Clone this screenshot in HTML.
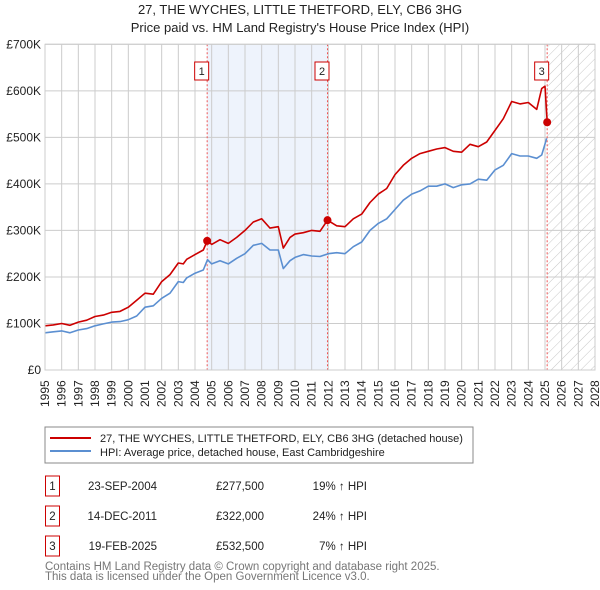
<!DOCTYPE html>
<html><head><meta charset="utf-8"><style>
body{margin:0;background:#fff;font-family:"Liberation Sans","DejaVu Sans",sans-serif;}
#wrap{position:relative;width:600px;height:590px;overflow:hidden;}
</style></head><body>
<div id="wrap">
<svg id="svg" width="600" height="590" xmlns="http://www.w3.org/2000/svg">
<defs><pattern id="hatch" width="7" height="7" patternUnits="userSpaceOnUse" patternTransform="rotate(45)"><line x1="0" y1="0" x2="0" y2="7" stroke="#c8c8c8" stroke-width="1"/></pattern></defs>
<text x="300" y="14" text-anchor="middle" font-size="13" fill="#222">27, THE WYCHES, LITTLE THETFORD, ELY, CB6 3HG</text>
<text x="300" y="32" text-anchor="middle" font-size="13" fill="#222">Price paid vs. HM Land Registry's House Price Index (HPI)</text>
<g id="plot"></g>
<rect x="45" y="427" width="428" height="36" fill="#fff" stroke="#888"/>
<line x1="50" y1="438" x2="91" y2="438" stroke="#cc0000" stroke-width="2"/>
<text x="100" y="442" font-size="11" fill="#222">27, THE WYCHES, LITTLE THETFORD, ELY, CB6 3HG (detached house)</text>
<line x1="50" y1="451" x2="91" y2="451" stroke="#5b8fd1" stroke-width="2"/>
<text x="100" y="456" font-size="11" fill="#222">HPI: Average price, detached house, East Cambridgeshire</text>
<g id="table" font-size="11.5" fill="#222"></g>
<text x="45" y="570" font-size="11.5" fill="#777">Contains HM Land Registry data © Crown copyright and database right 2025.</text>
<text x="45" y="580" font-size="11.5" fill="#777">This data is licensed under the Open Government Licence v3.0.</text>
</svg>
</div>
<script>
const hpiYears=[1995,1995.5,1996,1996.5,1997,1997.5,1998,1998.5,1999,1999.5,2000,2000.5,2001,2001.5,2002,2002.5,2003,2003.3,2003.5,2004,2004.5,2004.75,2005,2005.5,2006,2006.5,2007,2007.5,2008,2008.5,2009,2009.3,2009.7,2010,2010.5,2011,2011.5,2012,2012.5,2013,2013.5,2014,2014.5,2015,2015.5,2016,2016.5,2017,2017.5,2018,2018.5,2019,2019.5,2020,2020.5,2021,2021.5,2022,2022.5,2023,2023.5,2024,2024.5,2024.8,2025.1];
const hpiValues=[80,82,84,80,86,89,95,99,103,104,108,116,135,138,154,165,190,188,198,208,215,237,228,235,228,240,250,268,272,258,258,218,235,242,248,245,244,250,252,250,265,275,300,315,325,345,365,378,385,395,395,400,392,398,400,410,408,430,440,465,460,460,455,462,498];
const priceYears=[1995,1995.5,1996,1996.5,1997,1997.5,1998,1998.5,1999,1999.5,2000,2000.5,2001,2001.5,2002,2002.5,2003,2003.3,2003.5,2004,2004.5,2004.73,2005,2005.5,2006,2006.5,2007,2007.5,2008,2008.5,2009,2009.3,2009.7,2010,2010.5,2011,2011.5,2011.95,2012.5,2013,2013.5,2014,2014.5,2015,2015.5,2016,2016.5,2017,2017.5,2018,2018.5,2019,2019.5,2020,2020.5,2021,2021.5,2022,2022.5,2023,2023.5,2024,2024.5,2024.8,2025.0,2025.13];
const priceValues=[95,97,100,96,103,107,115,118,124,126,135,150,165,163,190,205,230,228,238,248,258,277.5,270,280,272,285,300,318,325,305,308,262,285,292,295,300,298,322,310,308,325,335,360,378,390,420,440,455,465,470,475,478,470,468,485,480,490,515,540,577,572,575,560,605,610,532.5];
const saleYears=[2004.73,2011.95,2025.13];
const saleValues=[277.5,322,532.5];
const saleLabels=["1","2","3"];
const saleDates=["23-SEP-2004","14-DEC-2011","19-FEB-2025"];
const salePrices=["£277,500","£322,000","£532,500"];
const saleDiffs=["19% ↑ HPI","24% ↑ HPI","7% ↑ HPI"];
const yTicks=[0,100,200,300,400,500,600,700];
const yTickLabels=["£0","£100K","£200K","£300K","£400K","£500K","£600K","£700K"];
const xStart=1995,xEnd=2028;

const NS="http://www.w3.org/2000/svg";
const X0=45,X1=595,Y0=370,Y1=44.3;
const xs=y=>X0+(y-xStart)/(xEnd-xStart)*(X1-X0);
const ys=v=>Y0-v/700*(Y0-Y1);
const plot=document.getElementById('plot');
function mk(tag,attrs,parent){const e=document.createElementNS(NS,tag);for(const k in attrs)e.setAttribute(k,attrs[k]);(parent||plot).appendChild(e);return e;}
let r=mk('rect',{x:xs(saleYears[0]),y:Y1,width:xs(saleYears[1])-xs(saleYears[0]),height:Y0-Y1,fill:'#eef3fc'});


r=mk('rect',{x:xs(saleYears[2]),y:Y1,width:X1-xs(saleYears[2]),height:Y0-Y1,fill:'url(#hatch)'});


for(let yr=xStart;yr<=xEnd;yr++){
  let l=mk('line',{x1:xs(yr),x2:xs(yr),y1:Y1,y2:Y0,stroke:'#cccccc','stroke-width':1});
  
  
  let t=mk('text',{x:0,y:0,transform:`translate(${xs(yr)+4},${Y0+37}) rotate(-90)`,'font-size':'12',fill:'#222'});
  t.textContent=yr;
  
  
}
yTicks.forEach((v,i)=>{
  let l=mk('line',{x1:X0,x2:X1,y1:ys(v),y2:ys(v),stroke:'#cccccc','stroke-width':1});
  
  
  let t=mk('text',{x:X0-4,y:ys(v)+4,'text-anchor':'end','font-size':'12',fill:'#222'});
  t.textContent=yTickLabels[i];
  
  
});
saleYears.forEach((yr,i)=>{
  let l=mk('line',{x1:xs(yr),x2:xs(yr),y1:Y1,y2:Y0,stroke:'#ee5555','stroke-width':1,'stroke-dasharray':'2,2'});
  
  
  let b=mk('rect',{x:xs(yr)-12.5,y:62,width:14,height:18,fill:'#fff',stroke:'#cc0000'});
  
  
  let t=mk('text',{x:xs(yr)-5.5,y:75,'text-anchor':'middle','font-size':'11',fill:'#222'});
  t.textContent=saleLabels[i];
  
  
});
function line(xa,va,col,name){
  const d=xa.map((x,i)=>(i?'L':'M')+xs(x).toFixed(1)+','+ys(va[i]).toFixed(1)).join('');
  const p=mk('path',{d:d,fill:'none',stroke:col,'stroke-width':1.6,'stroke-linejoin':'round'});
  
  
}
line(hpiYears,hpiValues,'#5b8fd1','hpi-line');
line(priceYears,priceValues,'#cc0000','property-price-line');
saleYears.forEach((yr,i)=>{
  let c=mk('circle',{cx:xs(yr),cy:ys(saleValues[i]),r:4,fill:'#cc0000'});
  
  
});
let f=mk('rect',{x:X0,y:Y1,width:X1-X0,height:Y0-Y1,fill:'none',stroke:'#cccccc'});


const tb=document.getElementById('table');
saleLabels.forEach((s,i)=>{
  const y=483+i*30;
  let b=mk('rect',{x:45.5,y:y-7,width:14,height:20,fill:'#fff',stroke:'#cc0000'},tb);
  
  
  const cells=[[52.5,s,'middle'],[157,saleDates[i],'end'],[264,salePrices[i],'end'],[367,saleDiffs[i],'end']];
  cells.forEach(c=>{
    let t=mk('text',{x:c[0],y:y+7,'text-anchor':c[2]},tb);
    t.textContent=c[1];
    
    
  });
});
</script>
</body></html>
